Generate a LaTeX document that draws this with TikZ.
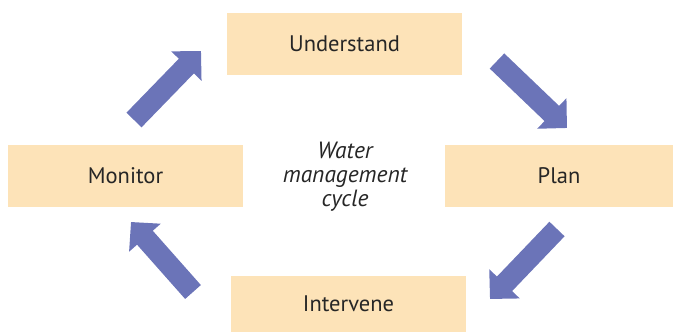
\documentclass[tikz,border=0pt]{standalone}
\usepackage{fontspec}
\setmainfont{PT Sans}
\usetikzlibrary{arrows.meta}
\definecolor{boxfill}{HTML}{FDE3B8}
\definecolor{arrowblue}{HTML}{6B74B8}
\definecolor{txt}{HTML}{262626}
\tikzset{
  stage/.style={fill=boxfill, draw=none, inner sep=0pt, text=txt,
    font=\fontsize{22.5}{26}\selectfont},
  bigarrow/.style={draw=arrowblue, line width=21pt, line cap=butt,
    -{Triangle[length=21pt,width=41pt]}},
}
\begin{document}
\begin{tikzpicture}[x=1pt,y=-1pt]
\useasboundingbox (0,0) rectangle (673,332);
\node[stage, minimum width=235pt, minimum height=62pt] (und) at (344.5,44) {Understand};
\node[stage, minimum width=228pt, minimum height=62pt] (plan) at (559,176) {Plan};
\node[stage, minimum width=235pt, minimum height=62pt] (mon) at (125.5,176) {Monitor};
\node[stage, minimum width=235pt, minimum height=56pt] (int) at (348.5,304) {Intervene};
\node[align=center, text=txt, font=\fontsize{23.5}{24}\selectfont\itshape] (cyc) at (345,177) {Water\\management\\cycle};
\coordinate (a1s) at (134,120); \coordinate (a1e) at (201,51);
\coordinate (a2s) at (497,61); \coordinate (a2e) at (567,128);
\coordinate (a3s) at (557,229); \coordinate (a3e) at (490,299);
\coordinate (a4s) at (193,292); \coordinate (a4e) at (131,222);
\draw[bigarrow] (a1s) -- (a1e);
\draw[bigarrow] (a2s) -- (a2e);
\draw[bigarrow] (a3s) -- (a3e);
\draw[bigarrow] (a4s) -- (a4e);
\end{tikzpicture}
\end{document}
